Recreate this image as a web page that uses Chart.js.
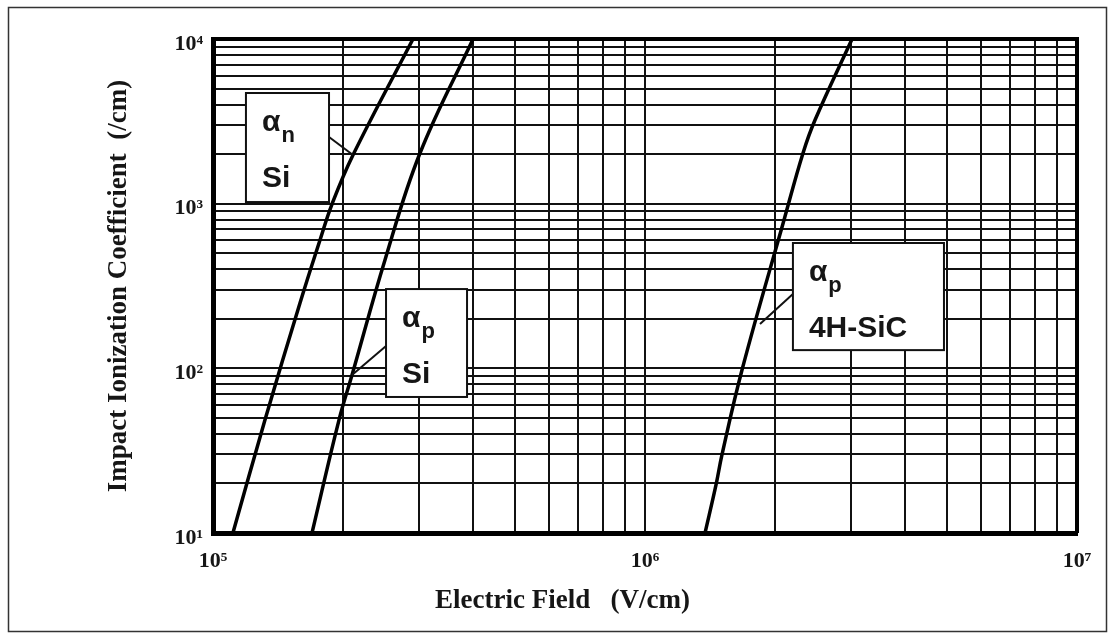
<!DOCTYPE html>
<html lang="en">
<head>
    <meta charset="UTF-8">
    <title>Impact Ionization Coefficient</title>
    <script src="https://cdn.jsdelivr.net/npm/chart.js"></script>
    <style>
        body { margin: 0; background: #fff; }
        #wrap { width: 1115px; height: 640px; position: relative; }
    </style>
</head>
<body>
    <div id="wrap">
        <canvas id="ionizationChart"></canvas>
    </div>
    <script>
        // values (V/cm , /cm)
        var siElectronField = [1.112e5, 1.319e5, 1.590e5, 1.769e5, 1.886e5, 2.109e5, 2.904e5];
        var siElectronAlpha = [10, 48.5, 249, 601, 995, 1974, 10000];

        var siHoleField = [1.695e5, 1.957e5, 2.098e5, 2.501e5, 3.015e5, 3.999e5];
        var siHoleAlpha = [10, 48.5, 91, 455, 2031, 10000];

        var sicHoleField = [1.377e6, 1.460e6, 1.507e6, 1.677e6, 2.098e6, 2.322e6, 2.475e6, 3.015e6];
        var sicHoleAlpha = [10, 19.6, 29.8, 97.7, 796, 2031, 3221, 10000];

        var xLabelValues = [1e5, 1e6, 1e7];
        var xLabelTexts = ['10\u2075', '10\u2076', '10\u2077'];
        var yLabelValues = [10, 100, 1000, 10000];
        var yLabelTexts = ['10\u00b9', '10\u00b2', '10\u00b3', '10\u2074'];

        // boxed labels, in data coordinates: box corners, pointer start and end
        var notes = [
            { box: [1.192e5, 4699, 1.856e5, 1023], from: [1.856e5, 2541], to: [2.109e5, 1974], sub: 'n', name: 'Si' },
            { box: [2.515e5, 303, 3.873e5, 67.0], from: [2.515e5, 136.6], to: [2.098e5, 91.1], sub: 'p', name: 'Si' },
            { box: [2.200e6, 577, 4.921e6, 129], from: [2.200e6, 283], to: [1.846e6, 186], sub: 'p', name: '4H-SiC' }
        ];

        function toPoints(xs, ys) {
            return xs.map(function (v, i) { return { x: v, y: ys[i] }; });
        }

        function decadeTicks(min, max) {
            var out = [];
            for (var d = min; d < max; d *= 10) {
                for (var m = 1; m < 10; m++) out.push({ value: m * d });
            }
            out.push({ value: max });
            return out;
        }

        function pickLabel(values, texts, v) {
            for (var i = 0; i < values.length; i++) {
                if (Math.abs(values[i] - v) / values[i] < 1e-6) return texts[i];
            }
            return '';
        }

        var serif = 'Liberation Serif';
        var sans = 'Liberation Sans';
        var ink = '#161616';

        var framePlugin = {
            id: 'frame',
            afterDatasetsDraw: function (chart) {
                var ctx = chart.ctx, x = chart.scales.x, y = chart.scales.y;
                notes.forEach(function (n) {
                    var x0 = x.getPixelForValue(n.box[0]), y0 = y.getPixelForValue(n.box[1]);
                    var x1 = x.getPixelForValue(n.box[2]), y1 = y.getPixelForValue(n.box[3]);
                    ctx.save();
                    ctx.strokeStyle = '#111';
                    ctx.lineWidth = 2;
                    ctx.beginPath();
                    ctx.moveTo(x.getPixelForValue(n.from[0]), y.getPixelForValue(n.from[1]));
                    ctx.lineTo(x.getPixelForValue(n.to[0]), y.getPixelForValue(n.to[1]));
                    ctx.stroke();
                    ctx.fillStyle = '#fff';
                    ctx.fillRect(x0, y0, x1 - x0, y1 - y0);
                    ctx.strokeRect(x0, y0, x1 - x0, y1 - y0);

                    ctx.fillStyle = ink;
                    ctx.textBaseline = 'alphabetic';
                    ctx.textAlign = 'left';
                    ctx.font = 'bold 30px "' + sans + '"';
                    ctx.fillText('\u03b1', x0 + 16, y0 + 38);
                    var w = ctx.measureText('\u03b1').width;
                    ctx.fillText(n.name, x0 + 16, y0 + 94);
                    ctx.font = 'bold 22px "' + sans + '"';
                    ctx.fillText(n.sub, x0 + 16 + w + 1, y0 + 49);
                    ctx.restore();
                });
            },
            afterDraw: function (chart) {
                var ctx = chart.ctx, a = chart.chartArea;
                ctx.save();
                ctx.strokeStyle = '#000';
                ctx.lineWidth = 4;
                ctx.beginPath();
                ctx.moveTo(a.left, a.top);
                ctx.lineTo(a.right, a.top);
                ctx.lineTo(a.right, a.bottom);
                ctx.stroke();
                // outer picture frame
                ctx.strokeStyle = '#333';
                ctx.lineWidth = 1.5;
                ctx.strokeRect(8.5, 7.5, 1098, 624);
                // x axis title
                ctx.fillStyle = ink;
                ctx.font = 'bold 27px "' + serif + '"';
                ctx.textAlign = 'left';
                ctx.textBaseline = 'alphabetic';
                ctx.fillText('Electric Field   (V/cm)', 435, 608);
                ctx.restore();
            }
        };

        var lineStyle = {
            borderColor: '#000',
            borderWidth: 3.5,
            pointRadius: 0,
            fill: false,
            tension: 0.4
        };

        var ctxIon = document.getElementById('ionizationChart').getContext('2d');
        var ionizationChart = new Chart(ctxIon, {
            type: 'line',
            data: {
                datasets: [
                    Object.assign({ label: '\u03b1n Si', data: toPoints(siElectronField, siElectronAlpha) }, lineStyle),
                    Object.assign({ label: '\u03b1p Si', data: toPoints(siHoleField, siHoleAlpha) }, lineStyle),
                    Object.assign({ label: '\u03b1p 4H-SiC', data: toPoints(sicHoleField, sicHoleAlpha) }, lineStyle)
                ]
            },
            options: {
                responsive: true,
                maintainAspectRatio: false,
                animation: false,
                layout: { padding: { left: 0, top: 39, right: 38, bottom: 0 } },
                plugins: { legend: { display: false }, tooltip: { enabled: false } },
                scales: {
                    x: {
                        type: 'logarithmic',
                        position: 'bottom',
                        min: 1e5,
                        max: 1e7,
                        afterBuildTicks: function (s) { s.ticks = decadeTicks(1e5, 1e7); },
                        afterFit: function (s) { s.height = 107; },
                        grid: { color: '#111', lineWidth: 2, drawTicks: false },
                        border: { color: '#000', width: 5 },
                        ticks: {
                            autoSkip: false,
                            maxRotation: 0,
                            padding: 15,
                            color: ink,
                            font: { family: serif, size: 22, weight: 'bold' },
                            callback: function (v) { return pickLabel(xLabelValues, xLabelTexts, v); }
                        }
                    },
                    y: {
                        type: 'logarithmic',
                        min: 10,
                        max: 10000,
                        afterBuildTicks: function (s) { s.ticks = decadeTicks(10, 10000); },
                        afterFit: function (s) { s.width = 213; },
                        grid: { color: '#111', lineWidth: 2, drawTicks: false },
                        border: { color: '#000', width: 5 },
                        ticks: {
                            autoSkip: false,
                            padding: 10,
                            labelOffset: 5,
                            color: ink,
                            font: { family: serif, size: 22, weight: 'bold' },
                            callback: function (v) { return pickLabel(yLabelValues, yLabelTexts, v); }
                        },
                        title: {
                            display: true,
                            text: 'Impact Ionization Coefficient  (/cm)',
                            color: ink,
                            font: { family: serif, size: 27, weight: 'bold' },
                            padding: { top: 103, bottom: 0 }
                        }
                    }
                }
            },
            plugins: [framePlugin]
        });
    </script>
</body>
</html>
